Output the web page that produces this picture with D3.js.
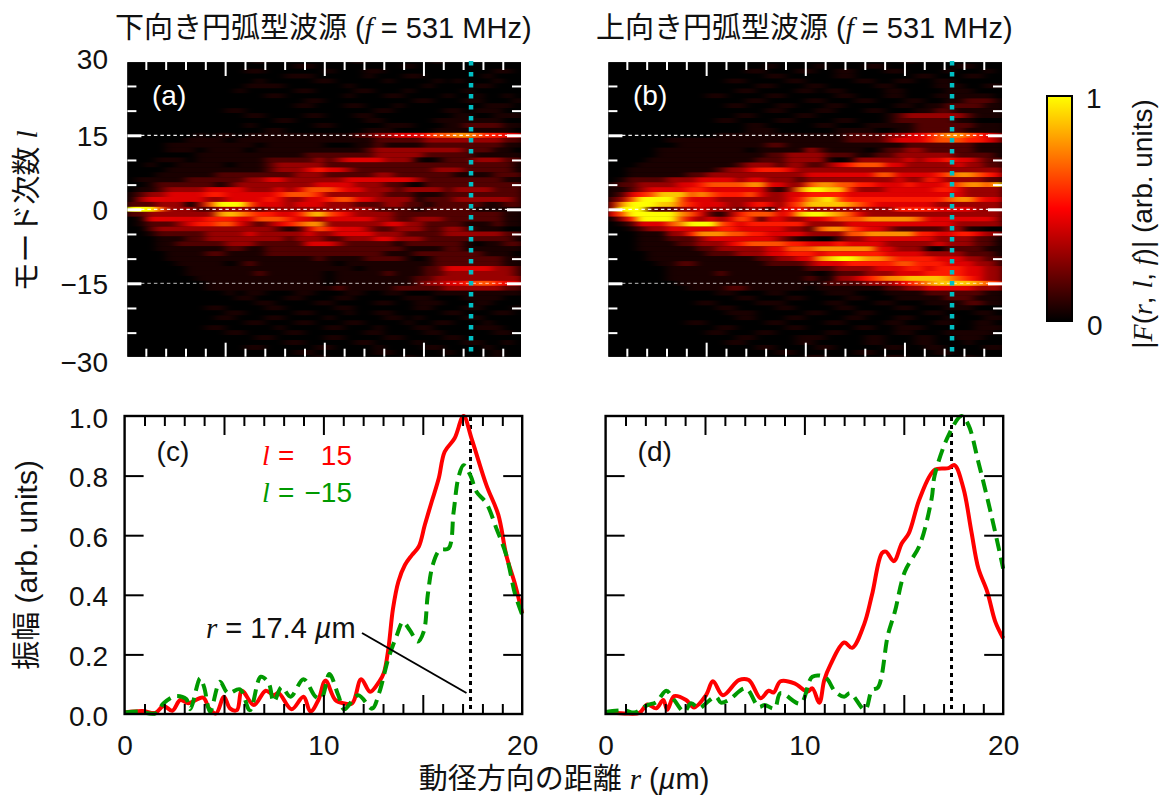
<!DOCTYPE html>
<html>
<head>
<meta charset="utf-8">
<script src="https://cdn.jsdelivr.net/npm/d3@7"></script>
<style>
  html, body { margin: 0; padding: 0; background: #fff; }
  svg { display: block; }
  text { font-family: "Liberation Sans", "Noto Sans CJK JP", sans-serif; fill: #111; }
  .ser { font-family: "Liberation Serif", serif; font-style: italic; }
  .ita { font-style: italic; }
  .cjk { font-family: "Noto Sans CJK JP", sans-serif; font-size: 29px; }
</style>
</head>
<body>
<script>
'use strict';

// mode numbers of the heat map rows, top row first
var modes = d3.range(30, -31, -1);
// one digit per 0.5 um radial bin, 0 = black, 9 = yellow
var digitLevels = [0, 0.05, 0.16, 0.3, 0.44, 0.55, 0.66, 0.78, 0.89, 1];
var heatA = [
  '0000000000000100000000010000000100000000',
  '0000000000000000011000000000100000000000',
  '0000000000001100000010001100000000000110',
  '0000000000000000111000001000110000001000',
  '0000000000000100000110000010000101000100',
  '0000000000001111000000100000001000011000',
  '0000000000010000011000011000100000100000',
  '0000000000000011000000100011000010010010',
  '0000000000000000001100000000011000110001',
  '0000000000000000011000110001000000001110',
  '0000000000110000000000000110000011011100',
  '0000000000001100001100011000000001100111',
  '0000000000000001100000001100000111111100',
  '0000000000001000000110000011100011222211',
  '0000000000000011000000001110000111111110',
  '0000000101101111111111122334445667765544',
  '0000001111011111111111111222223333333322',
  '0000111111111011111100011211112222222211',
  '0000111011110111111111112333333333222110',
  '0000000111111111112222222333332222211111',
  '0001110111111122222323444433310122233322',
  '0010011111011123333322222222222222222221',
  '0000111111111123334544322222222333222221',
  '0001111112222222233322222332222221111222',
  '0111112222223344333333444444432222222211',
  '0012222221233333333444433322102222222222',
  '0112333344443334346665443332333323333222',
  '1233444455444445666533333322211122222222',
  '1344444433444454334456644333312223333332',
  '2223330369996444344433322233221222221122',
  '9996333223333233333333333222212222211111',
  '2233333337876554457865433332222222222211',
  '0144444455544666544344444332233322222211',
  '0122234556643234567733333344332222111211',
  '0023333333333332124654443223332233211100',
  '0012222233334333334334444333222233333322',
  '0001112233333333233322333443332222222221',
  '0001122222333222224443222221222222101122',
  '0001111111221122222222222222111122111111',
  '0000111122111122222222222211122222221110',
  '0000111111111111111211112222101222222211',
  '0000011111012111111110111111111222222211',
  '0000001111111111111111101111112244444332',
  '0000001111111211111101111121112233333332',
  '0000000111111111111101111111122333333333',
  '0000000011111111111101111111123344566544',
  '0000000011111111111112111112222233333322',
  '0000000000101100011000110011000111111111',
  '0000000000011000110001100000111000111100',
  '0000000000000110000110000110011100011000',
  '0000000011000011000001100000011000110001',
  '0000000000110000011000100110000011000110',
  '0000000001100011000010000011010000110000',
  '0000000000001100011000110000100110001000',
  '0000000011000001000011000100011000011100',
  '0000000000110000110000001100001100000110',
  '0000000000000110000011000011000011000000',
  '0000000000000000110000011000010000110010',
  '0000000000001100000110000100001100001000',
  '0000000000000000011000000110000010000100',
  '0000000000000000000100000000100000000100'
];
var heatB = [
  '0000000000000000000000000000001000000000',
  '0000000000000000100001000011000000011000',
  '0000000000000011000110011000110000100010',
  '0000000000000000110000011000000110001100',
  '0000000000001100001100000110011001100000',
  '0000000000000001100011000001100001110011',
  '0000000000000110000110110000110000111000',
  '0000000000110000110000011000110001111110',
  '0000000000000011000011000110001100112221',
  '0000000000001100011000110000011011222211',
  '0000000000000000110001100011000112211111',
  '0000000000000110000110000000123333332111',
  '0000000000011000011000011000122222211000',
  '0000000000000011000001100011111222222111',
  '0000000000000011100000011110011222221111',
  '0000000000011111111111112222334456776543',
  '0000001111111111111111112222344456665543',
  '0000000111111111221111111111112222222111',
  '0000011111111101111132111101223322222111',
  '0000011111111111223333222112233333322221',
  '0000111111111112223333101333334344544322',
  '0001111111111233323322345666443333343322',
  '0011111111123345554333333333333333333333',
  '0011111122333333333344444446644445677654',
  '0122223334444344333233333333343354333322',
  '1223333445666677443367766554445444567768',
  '1123444455444444213799885333444445543333',
  '1245688867655564334455554444444444443333',
  '2369999644433333334578965555555555677544',
  '3799988654443345435688887654444443333333',
  '3999222334333233144533333333355554444333',
  '4699999764213566645899876433333333333333',
  '1359999643434652443344566677777644444443',
  '0124446799965455555533334444444444433333',
  '0012334444455444443326776544322222331100',
  '0001113357776655444433336677777554455433',
  '0001112223444444432110023344444443333221',
  '0001111223334566665544454444333334333221',
  '0001111112233333446667777774433310222211',
  '0000111111222333445554555555444433332221',
  '0000111111111112233447899877655554443322',
  '0000011221111111222234445555566555444332',
  '0000001111111111111122233334445545554433',
  '0000001111121111111110122233344455554433',
  '0000001111111111111121133456778888765433',
  '0000000111111111111111222233345678888765',
  '0000000011112211111101111111223344444333',
  '0000000000011000110000111000111122222211',
  '0000000000000110001100001100011111222111',
  '0000000001100001110000110001100011112211',
  '0000000000011000011000011000011000111000',
  '0000000000001110000011000110000011000110',
  '0000000000000110001100001100011000100011',
  '0000000011000000110000110000110001100110',
  '0000000000011000001100000110011100000111',
  '0000000000110001100000110000011000111110',
  '0000000000000110000111000011000110011100',
  '0000000000001100000110000011000110001000',
  '0000000000000001100001100000110011000011',
  '0000000000000000011000000110000001100000',
  '0000000000000000000011000000110000001000'
];

// amplitude profiles at l = 15 and l = -15, [r in um, amplitude]
var profileCRed = [[0,.005],[.9,.01],[1.55,.004],[1.96,.027],[2.4,.011],[2.8,.047],[3.2,.036],[3.95,.055],[4.25,.019],[4.6,.002],[5,.058],[5.3,.019],[5.65,.013],[5.9,.078],[6.5,.03],[7.1,.078],[7.5,.063],[7.75,.07],[8.4,.016],[9,.058],[9.35,.008],[9.75,.047],[10.1,.112],[10.6,.047],[11,.036],[11.45,.036],[11.9,.117],[12.35,.075],[12.8,.108],[13.05,.14],[13.27,.22],[13.5,.353],[13.77,.444],[14.1,.5],[14.45,.533],[14.8,.562],[15.1,.634],[15.45,.713],[15.8,.79],[16.1,.88],[16.6,.925],[17.05,1],[17.45,.925],[18.2,.768],[18.8,.668],[19.2,.533],[19.65,.433],[20,.338]];
var profileCGreen = [[0,.005],[.7,.008],[1.55,.002],[1.96,.036],[2.55,.06],[3.1,.05],[3.3,.016],[3.8,.12],[4,.09],[4.3,.008],[4.8,.108],[5.2,.07],[5.8,.083],[6.3,.013],[6.85,.125],[7.25,.103],[7.5,.041],[7.9,.09],[8.35,.058],[9,.117],[9.6,.058],[9.9,.052],[10.3,.134],[10.75,.063],[11.05,.016],[11.75,.063],[12.45,.018],[12.8,.07],[13.27,.187],[13.7,.265],[14,.309],[14.35,.281],[14.75,.243],[15.05,.277],[15.25,.4],[15.5,.5],[15.85,.55],[16.3,.556],[16.55,.678],[16.8,.796],[17.05,.835],[17.4,.8],[17.7,.746],[18.2,.707],[18.7,.623],[19.2,.533],[19.65,.4],[20,.333]];
var profileDRed = [[0,.007],[.95,.002],[1.7,.004],[2.1,.032],[2.55,.019],[2.9,.047],[3.1,.014],[3.45,.06],[4.05,.047],[4.45,.022],[5.05,.063],[5.4,.11],[5.9,.063],[6.7,.114],[7.2,.114],[7.8,.053],[8.2,.078],[8.45,.072],[8.8,.11],[9.5,.103],[10.15,.075],[10.4,.086],[10.75,.038],[11,.114],[11.3,.164],[12,.24],[12.4,.222],[13,.3],[13.4,.4],[13.9,.54],[14.1,.545],[14.5,.513],[14.9,.573],[15.25,.606],[15.8,.723],[16.55,.819],[17.25,.825],[17.55,.835],[18,.757],[18.4,.612],[18.75,.489],[19.2,.41],[19.6,.31],[20,.254]];
var profileDGreen = [[0,.007],[.95,.012],[1.45,.005],[2.1,.03],[2.55,.04],[3.05,.078],[3.45,.047],[3.95,.008],[4.3,.036],[4.7,.019],[5.05,.036],[5.55,.058],[5.8,.038],[6.2,.047],[7.05,.086],[7.7,.024],[8,.03],[8.5,.019],[8.8,.07],[9.8,.035],[10.4,.125],[11.05,.123],[11.55,.075],[12,.058],[12.3,.07],[13.05,.014],[13.4,.08],[13.7,.089],[14.2,.265],[14.55,.343],[15.05,.477],[15.8,.567],[16.4,.723],[16.55,.8],[17.25,.935],[17.9,1],[18.25,.97],[18.75,.846],[19.4,.668],[20,.488]];

var markedRadius = 17.4;
var markedModes = [15, 0, -15];
var markOpacity = [0.95, 0.95, 0.6];
var modeTicks = [30, 15, 0, -15, -30];
var radiusTicks = [0, 10, 20];
var ampTicks = [0, 0.2, 0.4, 0.6, 0.8, 1];

var svg = d3.select('body').append('svg').attr('width', 1162).attr('height', 796);
var defs = svg.append('defs');

var fontSize = 28;
var heatColor = d3.scaleLinear().domain([0, 0.5, 1]).range(['#000000', '#ff0000', '#ffff00']);

defs.append('filter')
    .attr('id', 'smear').attr('x', '-5%').attr('y', '-5%').attr('width', '110%').attr('height', '110%')
    .attr('color-interpolation-filters', 'sRGB')
  .append('feGaussianBlur').attr('stdDeviation', '5 0.6');

// text made of plain and italic runs
function label(parent, x, y, runs, anchor, color, rotate, size) {
  var t = parent.append('text')
      .attr('text-anchor', anchor || 'start')
      .style('font-size', (size || fontSize) + 'px')
      .attr('transform', 'translate(' + x + ',' + y + ')' + (rotate ? ' rotate(-90)' : ''));
  if (color) t.style('fill', color);
  runs.forEach(function (run) {
    var s = t.append('tspan').text(run[0]);
    if (run[1]) s.attr('class', run[1]);
    if (color) s.style('fill', color);
  });
  return t;
}

// inward tick marks with no labels
function ticks(g, axis, at, values, size, color, width) {
  var a = g.append('g').attr('transform', at)
      .call(axis.tickValues(values).tickSize(size).tickFormat(''));
  a.select('.domain').remove();
  a.selectAll('line').attr('stroke', color).attr('stroke-width', width);
}

function tickLabels(g, axis, at, values, format) {
  var a = g.append('g').attr('transform', at)
      .call(axis.tickValues(values).tickSize(0).tickPadding(0).tickFormat(format));
  a.select('.domain').remove();
  a.selectAll('text').style('font-size', fontSize + 'px').style('font-family', '"Liberation Sans"').style('fill', '#111');
  return a;
}

function heatPanel(id, data, x0, tag) {
  var x = d3.scaleLinear().domain([0, 20]).range([x0, x0 + 396.6]);
  var y = d3.scaleLinear().domain([30, -30]).range([61.3, 357.3]);
  var g = svg.append('g');

  defs.append('clipPath').attr('id', 'clip' + id)
    .append('rect').attr('x', x0 + 1.4).attr('y', 62.3).attr('width', 393.6).attr('height', 294.4);

  var plot = g.append('g').attr('clip-path', 'url(#clip' + id + ')');
  plot.append('rect').attr('x', x0).attr('y', 61).attr('width', 397).attr('height', 297).attr('fill', '#000');

  var cells = plot.append('g').attr('filter', 'url(#smear)');
  cells.append('rect').attr('x', x0 - 30).attr('y', 30).attr('width', 460).attr('height', 360).attr('fill', '#000');
  data.forEach(function (row, i) {
    cells.selectAll(null)
        .data(row.split(''))
        .enter().append('rect')
        .attr('x', function (d, j) { return x(j * 0.5); })
        .attr('y', y(modes[i] + 0.5))
        .attr('width', x(0.5) - x(0) + 0.3)
        .attr('height', y(0) - y(1) + 0.2)
        .attr('fill', function (d) { return heatColor(digitLevels[+d]); });
  });

  // dashed guides between the long side ticks
  markedModes.forEach(function (l, i) {
    g.append('line')
        .attr('x1', x(0.75)).attr('x2', x(19.25))
        .attr('y1', y(l)).attr('y2', y(l))
        .attr('stroke', '#fff').attr('stroke-width', 1.2)
        .attr('stroke-dasharray', '3.5 3')
        .attr('opacity', markOpacity[i]);
  });

  var minorR = d3.range(1, 20).filter(function (d) { return d % 5; });
  var majorR = [5, 10, 15];
  var minorL = [25, 20, 10, 5, -5, -10, -20, -25];

  ticks(g, d3.axisBottom(x), 'translate(0,62)', minorR, 8, '#fff', 2);
  ticks(g, d3.axisBottom(x), 'translate(0,62)', majorR, 14, '#fff', 2);
  ticks(g, d3.axisTop(x), 'translate(0,356.7)', minorR, 8, '#fff', 2);
  ticks(g, d3.axisTop(x), 'translate(0,356.7)', majorR, 14, '#fff', 2);
  ticks(g, d3.axisRight(y), 'translate(' + (x0 + 1.4) + ',0)', minorL, 9, '#fff', 2);
  ticks(g, d3.axisRight(y), 'translate(' + (x0 + 1.4) + ',0)', markedModes, 14, '#fff', 3);
  ticks(g, d3.axisLeft(y), 'translate(' + (x0 + 395) + ',0)', minorL, 9, '#fff', 2);
  ticks(g, d3.axisLeft(y), 'translate(' + (x0 + 395) + ',0)', markedModes, 14, '#fff', 3);

  g.append('line')
      .attr('x1', x(markedRadius)).attr('x2', x(markedRadius))
      .attr('y1', 61).attr('y2', 353)
      .attr('stroke', '#00bfc4').attr('stroke-width', 4.5)
      .attr('stroke-dasharray', '4.5 6.5');

  label(g, x0 + 26, 105, [[tag]], 'start', '#fff');
}

function linePanel(x0, red, green, tag) {
  var x = d3.scaleLinear().domain([0, 20]).range([x0, x0 + 397.6]);
  var y = d3.scaleLinear().domain([0, 1]).range([714, 416]);
  var g = svg.append('g');
  var line = d3.line()
      .x(function (d) { return x(d[0]); })
      .y(function (d) { return y(d[1]); })
      .curve(d3.curveCatmullRom.alpha(0.5));

  g.append('line')
      .attr('x1', x(markedRadius)).attr('x2', x(markedRadius))
      .attr('y1', 417).attr('y2', 714)
      .attr('stroke', '#000').attr('stroke-width', 3)
      .attr('stroke-dasharray', '4 4');

  g.append('path').attr('d', line(red))
      .attr('fill', 'none').attr('stroke', '#ff0000').attr('stroke-width', 4);
  g.append('path').attr('d', line(green))
      .attr('fill', 'none').attr('stroke', '#009900').attr('stroke-width', 4)
      .attr('stroke-dasharray', '13 7');

  var minorR = d3.range(1, 20).filter(function (d) { return d % 5; });
  var majorR = [5, 10, 15];
  var sideY = [0.2, 0.4, 0.6, 0.8];

  ticks(g, d3.axisBottom(x), 'translate(0,416)', minorR, 10, '#000', 2);
  ticks(g, d3.axisBottom(x), 'translate(0,416)', majorR, 19, '#000', 2);
  ticks(g, d3.axisTop(x), 'translate(0,714)', minorR, 10, '#000', 2);
  ticks(g, d3.axisTop(x), 'translate(0,714)', majorR, 19, '#000', 2);
  ticks(g, d3.axisRight(y), 'translate(' + x0 + ',0)', sideY, 19, '#000', 2);
  ticks(g, d3.axisLeft(y), 'translate(' + (x0 + 397.6) + ',0)', sideY, 19, '#000', 2);

  g.append('rect')
      .attr('x', x0).attr('y', 416).attr('width', 397.6).attr('height', 298)
      .attr('fill', 'none').attr('stroke', '#000').attr('stroke-width', 2.4);

  var a = tickLabels(g, d3.axisBottom(x), 'translate(0,735)', radiusTicks, d3.format('d'));
  a.selectAll('text').attr('dy', '0.71em');

  label(g, x0 + 32, 461, [[tag]]);
  return { g: g, x: x, y: y };
}

heatPanel('a', heatA, 126, '(a)');
heatPanel('b', heatB, 607, '(b)');
var c = linePanel(124.6, profileCRed, profileCGreen, '(c)');
var d = linePanel(605.6, profileDRed, profileDGreen, '(d)');

// mode and amplitude labels on the left
var yMode = d3.scaleLinear().domain([30, -30]).range([61.3, 357.3]);
var modeLabels = tickLabels(svg, d3.axisLeft(yMode), 'translate(108,0)', modeTicks, d3.format('d'));
modeLabels.selectAll('text').attr('dy', function (l) {
  return (l === 30 ? -3 : l === -30 ? 4 : 0) + 10;
});
var ampLabels = tickLabels(svg, d3.axisLeft(c.y), 'translate(108,0)', ampTicks, d3.format('.1f'));
ampLabels.selectAll('text').attr('dy', 11);

// titles
label(svg, 115, 38, [['下向き円弧型波源', 'cjk'], [' ('], ['f', 'ser'], [' = 531 MHz)']], 'start', null, false, 29);
label(svg, 596, 38, [['上向き円弧型波源', 'cjk'], [' ('], ['f', 'ser'], [' = 531 MHz)']], 'start', null, false, 29);
label(svg, 37, 211, [['モード次数', 'cjk'], [' '], ['l', 'ser']], 'middle', null, true, 29);
label(svg, 37, 565, [['振幅', 'cjk'], [' (arb. units)']], 'middle', null, true, 30);
label(svg, 564, 789, [['動径方向の距離', 'cjk'], [' '], ['r', 'ser'], [' ('], ['µ', 'ita'], ['m)']], 'middle', null, false, 29);

// panel (c) legend and note
label(svg, 262, 465, [['l', 'ser']], 'start', '#ff0000');
label(svg, 278, 465, [['=']], 'start', '#ff0000');
label(svg, 352, 465, [['15']], 'end', '#ff0000');
label(svg, 262, 502, [['l', 'ser']], 'start', '#009900');
label(svg, 278, 502, [['=']], 'start', '#009900');
label(svg, 352, 502, [['−15']], 'end', '#009900');
label(svg, 206, 638, [['r', 'ser'], [' = 17.4 '], ['µ', 'ita'], ['m']], 'start', null, false, 29);
c.g.append('line')
    .attr('x1', 362).attr('y1', 633)
    .attr('x2', c.x(markedRadius) - 4).attr('y2', 693)
    .attr('stroke', '#000').attr('stroke-width', 2);

// colour bar
var barStops = d3.range(0, 1.01, 0.1);
var grad = defs.append('linearGradient').attr('id', 'bar')
    .attr('x1', 0).attr('x2', 0).attr('y1', 1).attr('y2', 0);
barStops.forEach(function (s) {
  grad.append('stop').attr('offset', s).attr('stop-color', heatColor(s));
});
svg.append('rect')
    .attr('x', 1047).attr('y', 96).attr('width', 25).attr('height', 225)
    .attr('fill', 'url(#bar)').attr('stroke', '#000').attr('stroke-width', 2);
label(svg, 1086, 108, [['1']]);
label(svg, 1087, 335, [['0']]);
label(svg, 1152, 224, [['|'], ['F', 'ser'], ['('], ['r', 'ser'], [', '], ['l', 'ser'], [', '], ['f', 'ser'], [')| (arb. units)']], 'middle', null, true);
</script>
</body>
</html>
